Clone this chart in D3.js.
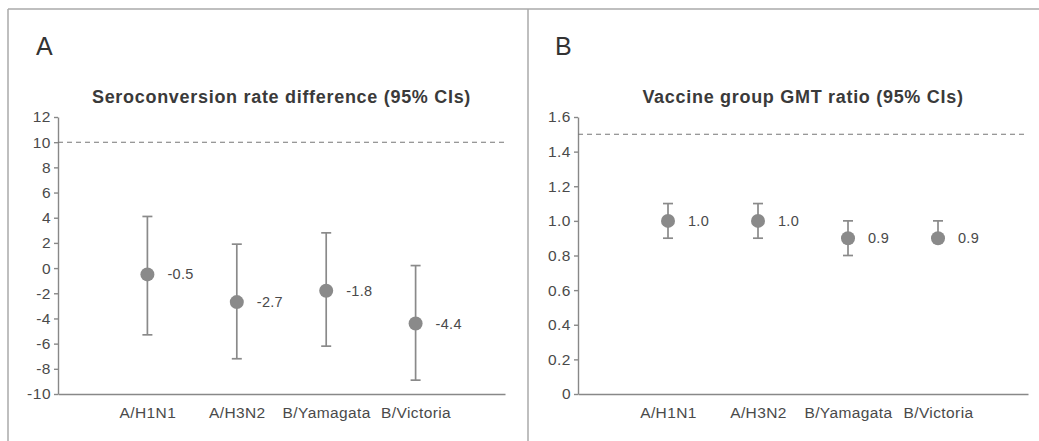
<!DOCTYPE html>
<html>
<head>
<meta charset="utf-8">
<script src="https://cdn.jsdelivr.net/npm/d3@7"></script>
<style>
  body { margin: 0; background: #fff; }
  text { font-family: "Liberation Sans", Arial, Helvetica, sans-serif; }
</style>
</head>
<body>
<script>
// data
var strains = ["A/H1N1", "A/H3N2", "B/Yamagata", "B/Victoria"];

// panel A: seroconversion rate difference
var scrDiff = [-0.5, -2.7, -1.8, -4.4];
var scrLow  = [-5.3, -7.2, -6.2, -8.9];
var scrHigh = [4.1, 1.9, 2.8, 0.2];
var scrTicks = [-10, -8, -6, -4, -2, 0, 2, 4, 6, 8, 10, 12];
var scrMargin = 10;

// panel B: GMT ratio
var gmtRatio = [1.0, 1.0, 0.9, 0.9];
var gmtLow   = [0.9, 0.9, 0.8, 0.88];
var gmtHigh  = [1.1, 1.1, 1.0, 1.0];
var gmtTicks = [0, 0.2, 0.4, 0.6, 0.8, 1.0, 1.2, 1.4, 1.6];
var gmtMargin = 1.5;

var W = 1039, H = 441;
var grey = "#8a8a8a";

var svg = d3.select("body").append("svg")
    .attr("width", W)
    .attr("height", H);

// outer frame + divider
var frame = svg.append("g")
    .attr("stroke", "#aaa")
    .attr("stroke-width", 1.5)
    .attr("fill", "none");
frame.append("line").attr("x1", 8).attr("x2", W).attr("y1", 9).attr("y2", 9);
frame.append("line").attr("x1", 8).attr("x2", 8).attr("y1", 9).attr("y2", H);
frame.append("line").attr("x1", 528).attr("x2", 528).attr("y1", 9).attr("y2", H);

function panel(opt) {
  var g = svg.append("g");

  var x = d3.scalePoint()
      .domain(strains)
      .range([opt.left, opt.right])
      .padding(1);
  var y = d3.scaleLinear()
      .domain(opt.domain)
      .range([394, 117]);

  // panel letter
  g.append("text")
      .attr("x", opt.letterX)
      .attr("y", 55)
      .attr("font-size", 25)
      .attr("fill", "#333")
      .text(opt.letter);

  // title
  g.append("text")
      .attr("x", (opt.left + opt.right) / 2)
      .attr("y", 103)
      .attr("text-anchor", "middle")
      .attr("font-size", 18)
      .attr("font-weight", "bold")
      .attr("letter-spacing", 0.7)
      .attr("fill", "#3a3a3a")
      .text(opt.title);

  // y axis
  var yAxis = g.append("g")
      .attr("transform", "translate(" + opt.left + ",0)")
      .call(d3.axisLeft(y)
        .tickValues(opt.ticks)
        .tickSize(4)
        .tickSizeOuter(0)
        .tickPadding(3)
        .tickFormat(opt.tickFormat));
  yAxis.select(".domain").attr("stroke", "#888").attr("stroke-width", 1.4);
  yAxis.selectAll(".tick line").attr("stroke", "#888").attr("stroke-width", 1.4);
  yAxis.selectAll(".tick text")
      .attr("font-size", 15.5)
      .attr("letter-spacing", 0.5)
      .attr("fill", "#4a4a4a")
      .attr("font-family", "Liberation Sans, Arial, sans-serif");

  // x axis (line only, no ticks)
  var xAxis = g.append("g")
      .attr("transform", "translate(0," + y(opt.domain[0]) + ")")
      .call(d3.axisBottom(x).tickSize(0).tickSizeOuter(0).tickPadding(13));
  xAxis.select(".domain").attr("stroke", "#888").attr("stroke-width", 1.4);
  xAxis.selectAll(".tick text")
      .attr("font-size", 15.5)
      .attr("letter-spacing", 0.4)
      .attr("fill", "#4a4a4a")
      .attr("font-family", "Liberation Sans, Arial, sans-serif");

  // non-inferiority margin
  g.append("line")
      .attr("x1", opt.left)
      .attr("x2", opt.right)
      .attr("y1", y(opt.margin))
      .attr("y2", y(opt.margin))
      .attr("stroke", "#777")
      .attr("stroke-width", 1.1)
      .attr("stroke-dasharray", "5,4");

  var rows = strains.map(function(s, i) {
    return {s: s, v: opt.vals[i], lo: opt.lo[i], hi: opt.hi[i]};
  });

  var pts = g.selectAll(".pt").data(rows).enter().append("g").attr("class", "pt");

  // whiskers
  pts.append("line")
      .attr("x1", function(d) { return x(d.s); })
      .attr("x2", function(d) { return x(d.s); })
      .attr("y1", function(d) { return y(d.lo); })
      .attr("y2", function(d) { return y(d.hi); })
      .attr("stroke", grey)
      .attr("stroke-width", 1.7);
  ["lo", "hi"].forEach(function(k) {
    pts.append("line")
        .attr("x1", function(d) { return x(d.s) - 5; })
        .attr("x2", function(d) { return x(d.s) + 5; })
        .attr("y1", function(d) { return y(d[k]); })
        .attr("y2", function(d) { return y(d[k]); })
        .attr("stroke", grey)
        .attr("stroke-width", 1.7);
  });

  pts.append("circle")
      .attr("cx", function(d) { return x(d.s); })
      .attr("cy", function(d) { return y(d.v); })
      .attr("r", 7)
      .attr("fill", grey);

  pts.append("text")
      .attr("x", function(d) { return x(d.s) + 20; })
      .attr("y", function(d) { return y(d.v); })
      .attr("dy", "0.35em")
      .attr("font-size", 14.5)
      .attr("letter-spacing", 0.3)
      .attr("fill", "#4a4a4a")
      .text(function(d) { return d.v.toFixed(1); });
}

panel({
  letter: "A", letterX: 36,
  title: "Seroconversion rate difference (95% CIs)",
  left: 58, right: 505,
  domain: [-10, 12], ticks: scrTicks,
  tickFormat: function(d) { return String(d); },
  margin: scrMargin,
  vals: scrDiff, lo: scrLow, hi: scrHigh
});

panel({
  letter: "B", letterX: 555,
  title: "Vaccine group GMT ratio (95% CIs)",
  left: 578, right: 1028,
  domain: [0, 1.6], ticks: gmtTicks,
  tickFormat: function(d) { return d === 0 ? "0" : d.toFixed(1); },
  margin: gmtMargin,
  vals: gmtRatio, lo: gmtLow, hi: gmtHigh
});
</script>
</body>
</html>
